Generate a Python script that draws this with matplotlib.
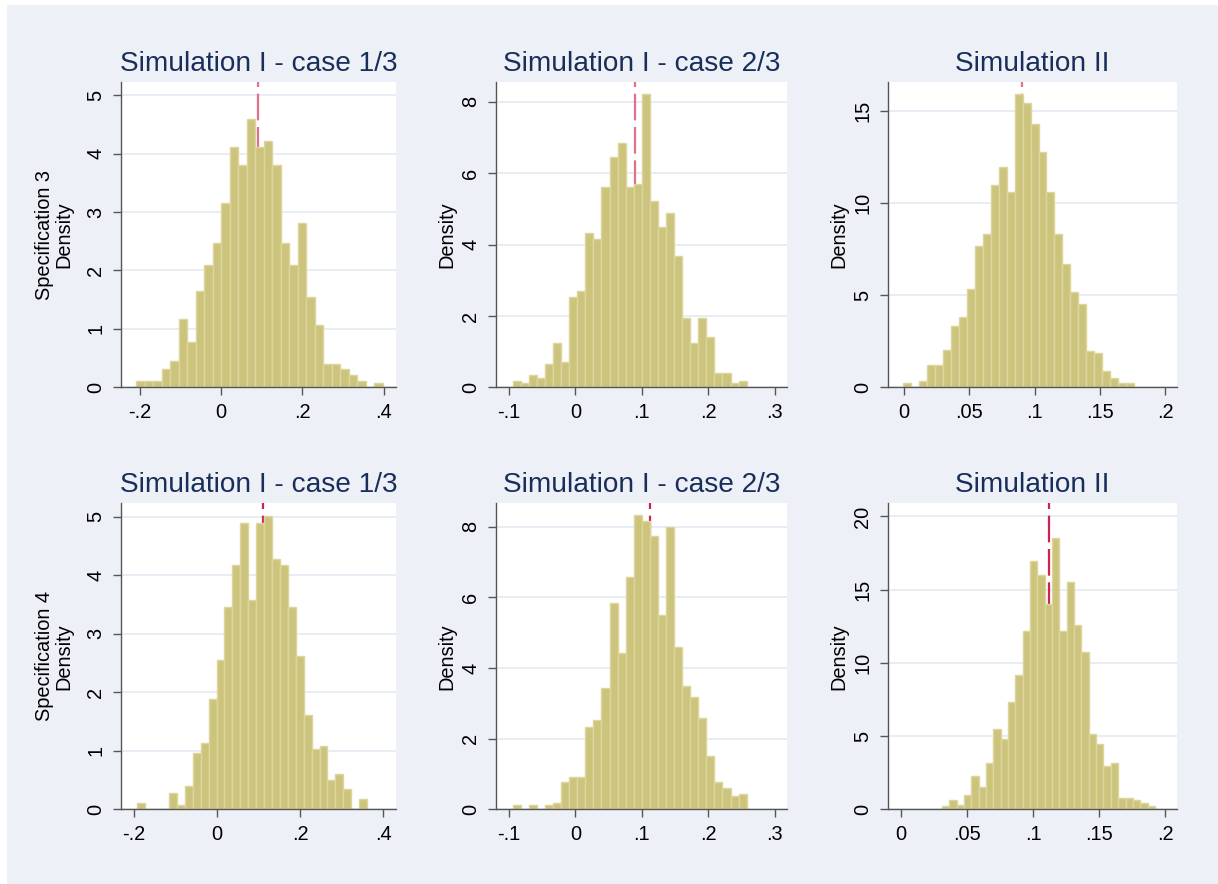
import numpy as np
import matplotlib
matplotlib.use('Agg')
import matplotlib.pyplot as plt
from matplotlib.patches import Rectangle

plt.rcParams['font.family'] = ['Liberation Sans', 'DejaVu Sans']

# Data: 29 bins per panel (first bin start, bin width, densities)
titles = ['Simulation I - case 1/3', 'Simulation I - case 2/3', 'Simulation II',
          'Simulation I - case 1/3', 'Simulation I - case 2/3', 'Simulation II']
row_labels = ['Specification 3', 'Specification 4']

bin_start = [-0.209, -0.0942, -0.0005, -0.192, -0.0942, 0.0312]
bin_width = [0.02091, 0.01213, 0.006087, 0.01909, 0.01213, 0.00555]

dens_s3_c1 = [0.11, 0.11, 0.11, 0.31, 0.45, 1.17, 0.77, 1.65, 2.09, 2.47,
              3.15, 4.11, 3.81, 4.60, 4.11, 4.21, 3.81, 2.47, 2.09, 2.82,
              1.55, 1.06, 0.40, 0.40, 0.31, 0.21, 0.11, 0.0, 0.07]
dens_s3_c2 = [0.18, 0.11, 0.35, 0.25, 0.65, 1.23, 0.72, 2.54, 2.70, 4.32,
              4.15, 5.62, 6.45, 6.84, 5.62, 5.70, 8.21, 5.21, 4.48, 4.90,
              3.68, 1.95, 1.23, 1.95, 1.40, 0.41, 0.41, 0.11, 0.18]
dens_s3_sim2 = [0.22, 0.0, 0.34, 1.19, 1.19, 2.00, 3.33, 3.83, 5.33, 7.67,
                8.32, 10.98, 11.95, 10.61, 15.91, 15.44, 14.29, 12.78, 10.61, 8.32,
                6.67, 5.19, 4.52, 1.99, 1.84, 0.87, 0.49, 0.22, 0.22]
dens_s4_c1 = [0.11, 0.0, 0.0, 0.0, 0.28, 0.08, 0.39, 0.96, 1.13, 1.88,
              2.56, 3.46, 4.17, 4.89, 3.58, 4.89, 5.01, 4.28, 4.17, 3.46,
              2.62, 1.61, 1.03, 1.08, 0.50, 0.60, 0.34, 0.0, 0.17]
dens_s4_c2 = [0.11, 0.0, 0.11, 0.0, 0.11, 0.17, 0.76, 0.92, 0.92, 2.34,
              2.52, 3.42, 5.83, 4.42, 6.58, 8.32, 8.16, 7.73, 5.51, 8.00,
              4.60, 3.50, 3.17, 2.58, 1.52, 0.76, 0.61, 0.38, 0.44]
dens_s4_sim2 = [0.25, 0.64, 0.27, 0.96, 2.28, 1.55, 3.14, 5.49, 4.78, 7.33,
                9.18, 12.19, 16.95, 16.01, 14.01, 18.52, 12.19, 15.51, 12.57, 10.77,
                5.15, 4.44, 2.96, 3.14, 0.75, 0.75, 0.64, 0.41, 0.25]
densities = [dens_s3_c1, dens_s3_c2, dens_s3_sim2, dens_s4_c1, dens_s4_c2, dens_s4_sim2]

true_value = [0.091, 0.0897, 0.0903, 0.1116, 0.1118, 0.1123]

xticks = [[-0.2, 0, 0.2, 0.4], [-0.1, 0, 0.1, 0.2, 0.3], [0, 0.05, 0.1, 0.15, 0.2]] * 2
xticklabels = [['-.2', '0', '.2', '.4'], ['-.1', '0', '.1', '.2', '.3'],
               ['0', '.05', '.1', '.15', '.2']] * 2
yticks = [[0, 1, 2, 3, 4, 5], [0, 2, 4, 6, 8], [0, 5, 10, 15],
          [0, 1, 2, 3, 4, 5], [0, 2, 4, 6, 8], [0, 5, 10, 15, 20]]
xlims = [(-0.2467, 0.4303), (-0.1193, 0.3178), (-0.0122, 0.2092),
         (-0.2321, 0.4313), (-0.1193, 0.3178), (-0.0096, 0.2091)]
ylims = [5.22, 8.55, 16.55, 5.23, 8.66, 20.9]

W, H = 1218, 884
fig = plt.figure(figsize=(W / 100, H / 100), dpi=100, facecolor='white')
fig.patches.append(Rectangle((7 / W, 0), 1 - 7 / W, 1 - 5 / H, transform=fig.transFigure,
                             facecolor='#edf1f7', edgecolor='none', zorder=-10))

# plot-region boxes in pixels: (left, right), (top, bottom)
cols = [(120.7, 396.0), (496.0, 786.7), (888.0, 1177.3)]
rows = [(82.3, 387.3), (503.3, 809.3)]
label_x = [-0.173, -0.135, -0.136]

bar_fill = '#ccc47c'
bar_edge = '#dcd69e'
line_colors = ['#e0708e', '#e0708e', '#e0708e', '#cc2350', '#cc2350', '#cc2350']

for i in range(6):
    r, c = divmod(i, 3)
    (x0, x1), (y0, y1) = cols[c], rows[r]
    ax = fig.add_axes([x0 / W, 1 - y1 / H, (x1 - x0) / W, (y1 - y0) / H])
    ax.set_facecolor('white')

    d = np.array(densities[i])
    edges = bin_start[i] + bin_width[i] * np.arange(len(d))
    ax.axvline(true_value[i], color=line_colors[i], lw=1.6, dashes=(12, 3), zorder=1)
    ax.bar(edges, d, width=bin_width[i], align='edge', color=bar_fill,
           edgecolor=bar_edge, linewidth=1.0, zorder=2)

    ax.set_xlim(*xlims[i])
    ax.set_ylim(0, ylims[i])
    ax.set_xticks(xticks[i])
    ax.set_xticklabels(xticklabels[i])
    ax.set_yticks(yticks[i])
    ax.set_yticklabels([str(v) for v in yticks[i]], rotation=90, va='center')
    ax.grid(axis='y', color='#e6ecf3', lw=1.3, zorder=0)
    ax.set_axisbelow(True)

    for s in ['top', 'right']:
        ax.spines[s].set_visible(False)
    for s in ['left', 'bottom']:
        ax.spines[s].set_color('#555555')
        ax.spines[s].set_linewidth(1.0)
    ax.tick_params(axis='both', length=5.8, width=1.0, color='#555555',
                   labelsize=14.4, pad=5.5)

    ax.set_title(titles[i], fontsize=20.2, color='#1a2e5a', pad=8)
    if c == 0:
        ax.set_ylabel(row_labels[r] + '\nDensity', fontsize=14.4, linespacing=1.0)
    else:
        ax.set_ylabel('Density', fontsize=14.4)
    ax.yaxis.set_label_coords(label_x[c], 0.5)

plt.savefig('out.png', dpi=100, facecolor=fig.get_facecolor())
print("saved out.png")
